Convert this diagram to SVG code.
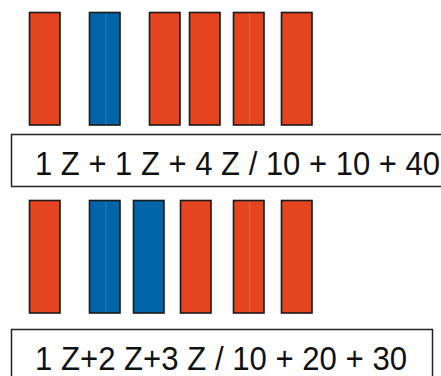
<svg xmlns="http://www.w3.org/2000/svg" width="441" height="376" viewBox="0 0 441 376">
<style>
.r{fill:#E4441F;stroke:#1a1a1a;stroke-width:1.6}
.b{fill:#0064A8;stroke:#1a1a1a;stroke-width:1.6}
.hl{stroke:#ffffff;stroke-opacity:0.12;stroke-width:1.5}
.box{fill:#ffffff;stroke:#222;stroke-width:1.5}
.t{font-family:"Liberation Sans",Arial,sans-serif;font-size:33px;fill:#111}
</style>
<rect width="441" height="376" fill="#ffffff"/>
<g id="row1">
<rect class="r" x="29.5" y="12.5" width="30.5" height="112.5"/>
<rect class="b" x="89.5" y="12.5" width="30.5" height="112.5"/>
<line class="hl" x1="106" y1="13.5" x2="106" y2="124"/>
<rect class="r" x="149.5" y="12.5" width="30.5" height="112.5"/>
<rect class="r" x="189.5" y="12.5" width="30.5" height="112.5"/>
<rect class="r" x="233.5" y="12.5" width="30.5" height="112.5"/>
<line class="hl" x1="249.5" y1="13.5" x2="249.5" y2="124"/>
<rect class="r" x="281.5" y="12.5" width="30.5" height="112.5"/>
</g>
<g id="label1">
<rect class="box" x="11.5" y="134.5" width="440" height="52"/>
<text class="t" x="35" y="175" textLength="405" lengthAdjust="spacingAndGlyphs">1 Z + 1 Z + 4 Z / 10 + 10 + 40</text>
</g>
<g id="row2">
<rect class="r" x="29.5" y="200.5" width="30.5" height="112.5"/>
<rect class="b" x="89.5" y="200.5" width="30.5" height="112.5"/>
<line class="hl" x1="106" y1="201.5" x2="106" y2="312"/>
<rect class="b" x="133.5" y="200.5" width="30.5" height="112.5"/>
<rect class="r" x="180.5" y="200.5" width="30.5" height="112.5"/>
<rect class="r" x="233.5" y="200.5" width="30.5" height="112.5"/>
<line class="hl" x1="249.5" y1="201.5" x2="249.5" y2="312"/>
<rect class="r" x="281.5" y="200.5" width="30.5" height="112.5"/>
</g>
<g id="label2">
<rect class="box" x="11.5" y="329.5" width="421" height="60"/>
<text class="t" x="35" y="370" textLength="372" lengthAdjust="spacingAndGlyphs">1 Z+2 Z+3 Z / 10 + 20 + 30</text>
</g>
</svg>
